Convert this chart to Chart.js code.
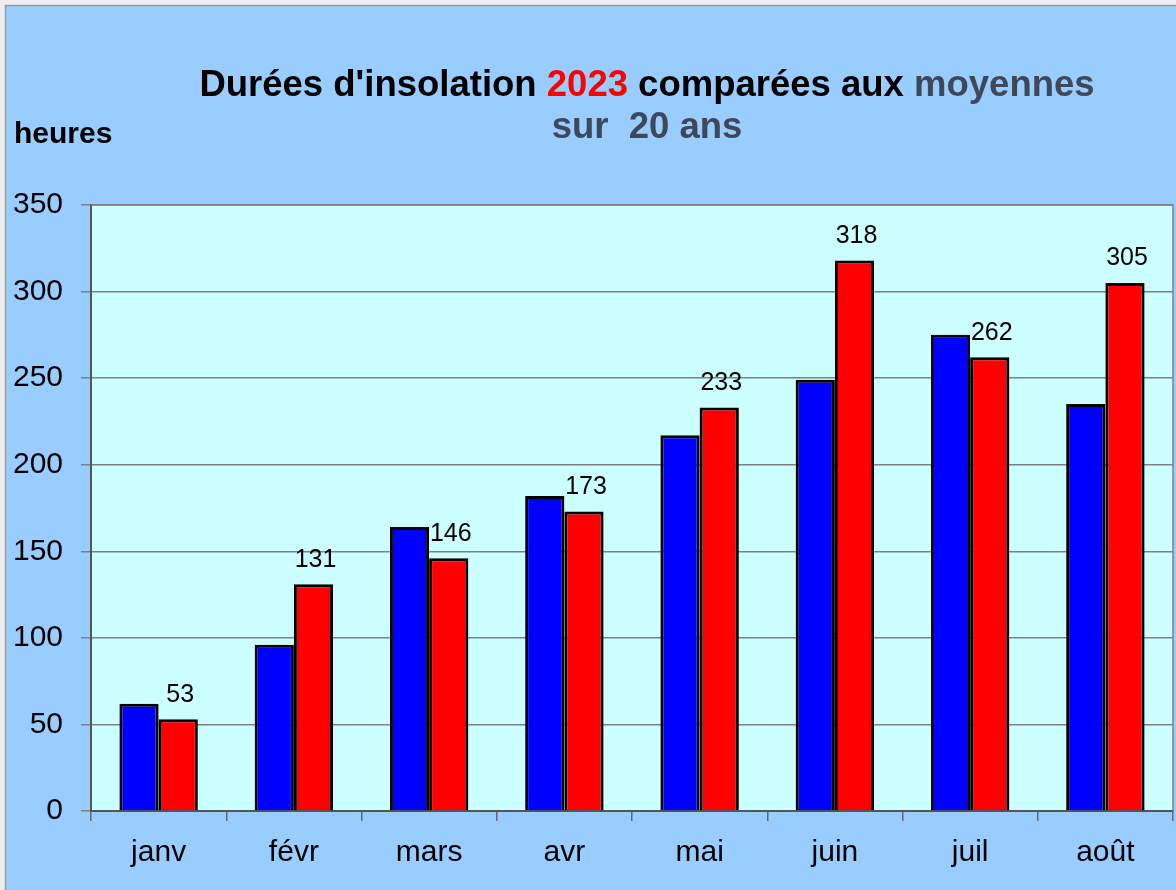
<!DOCTYPE html>
<html lang="fr">
  <head>
    <meta charset="UTF-8" />
    <title>Durées d'insolation 2023</title>
    <script src="https://cdn.jsdelivr.net/npm/chart.js"></script>
    <style>
      body { margin: 0; background: #eeeeee; }
    </style>
  </head>
  <body>
    <div style="width: 1176px; height: 890px">
      <canvas id="chart"></canvas>
    </div>
    <script>
      // données
      const mois = ["janv", "févr", "mars", "avr", "mai", "juin", "juil", "août"];
      const moyennes = [62, 96, 164, 182, 217, 249, 275, 235];
      const valeurs2023 = [53, 131, 146, 173, 233, 318, 262, 305];
      const yTicks = [0, 50, 100, 150, 200, 250, 300, 350];

      const police = "'Liberation Sans', Arial, sans-serif";

      // fond, cadre et titres
      const decor = {
        id: "decor",
        beforeDraw: (chart) => {
          const c = chart.ctx;
          c.save();
          c.fillStyle = "#eeeeee";
          c.fillRect(0, 0, chart.width, chart.height);
          c.fillStyle = "#99ccff";
          c.fillRect(5, 5, chart.width, chart.height);
          c.strokeStyle = "#9a9a9a";
          c.lineWidth = 1.5;
          c.beginPath();
          c.moveTo(5.5, chart.height);
          c.lineTo(5.5, 5.5);
          c.lineTo(chart.width, 5.5);
          c.stroke();
          const a = chart.chartArea;
          c.fillStyle = "#ccffff";
          c.fillRect(a.left, a.top, a.right - a.left, a.bottom - a.top);
          c.restore();
        },
        afterDraw: (chart) => {
          const c = chart.ctx;
          const a = chart.chartArea;
          c.save();
          // bord haut et droit de la zone de tracé
          c.strokeStyle = "#808080";
          c.lineWidth = 1.5;
          c.beginPath();
          c.moveTo(a.left, a.top);
          c.lineTo(a.right, a.top);
          c.lineTo(a.right, a.bottom);
          c.stroke();

          // titre en plusieurs couleurs
          c.font = "bold 36.5px " + police;
          c.textBaseline = "middle";
          const parts = [
            ["Durées d'insolation ", "#000000"],
            ["2023", "#ff0000"],
            [" comparées aux ", "#000000"],
            ["moyennes", "#3f4858"],
          ];
          const total = parts.reduce((s, p) => s + c.measureText(p[0]).width, 0);
          let x = 647 - total / 2;
          c.textAlign = "left";
          parts.forEach((p) => {
            c.fillStyle = p[1];
            c.fillText(p[0], x, 86);
            x += c.measureText(p[0]).width;
          });
          c.textAlign = "center";
          c.fillStyle = "#3f4858";
          c.fillText("sur  20 ans", 647, 128);

          c.font = "bold 30px " + police;
          c.fillStyle = "#000000";
          c.textAlign = "left";
          c.fillText("heures", 14, 135);

          // étiquettes des barres 2023
          const meta = chart.getDatasetMeta(1);
          c.font = "25px " + police;
          c.textAlign = "center";
          c.textBaseline = "bottom";
          meta.data.forEach((bar, i) => {
            c.fillText(String(valeurs2023[i]), bar.x + 2, bar.y - 12);
          });
          c.restore();
        },
      };

      new Chart(document.getElementById("chart"), {
        type: "bar",
        data: {
          labels: mois,
          datasets: [
            {
              label: "moyennes sur 20 ans",
              data: moyennes,
              backgroundColor: "#0000ff",
              borderColor: "#000000",
              borderWidth: 3,
              borderSkipped: "bottom",
            },
            {
              label: "2023",
              data: valeurs2023,
              backgroundColor: "#ff0000",
              borderColor: "#000000",
              borderWidth: 3,
              borderSkipped: "bottom",
            },
          ],
        },
        options: {
          responsive: true,
          maintainAspectRatio: false,
          animation: false,
          categoryPercentage: 0.58,
          barPercentage: 1,
          layout: { padding: { top: 205, right: 3, left: 0, bottom: 0 } },
          plugins: {
            legend: { display: false },
            tooltip: { enabled: false },
            title: { display: false },
          },
          scales: {
            x: {
              grid: {
                offset: true,
                drawOnChartArea: false,
                drawTicks: true,
                tickLength: 10,
                color: "#666666",
                lineWidth: 1.5,
              },
              border: { color: "#555555", width: 2 },
              ticks: {
                color: "#000000",
                font: { family: police, size: 30 },
                padding: 14,
              },
              afterFit: (s) => { s.height = 79; },
            },
            y: {
              min: 0,
              max: 350,
              afterBuildTicks: (s) => { s.ticks = yTicks.map((v) => ({ value: v })); },
              grid: {
                color: "#808080",
                lineWidth: 1.5,
                tickLength: 10,
              },
              border: { color: "#555555", width: 2 },
              ticks: {
                color: "#000000",
                font: { family: police, size: 30 },
                padding: 18,
              },
              afterFit: (s) => { s.width = 91; },
            },
          },
        },
        plugins: [decor],
      });
    </script>
  </body>
</html>
